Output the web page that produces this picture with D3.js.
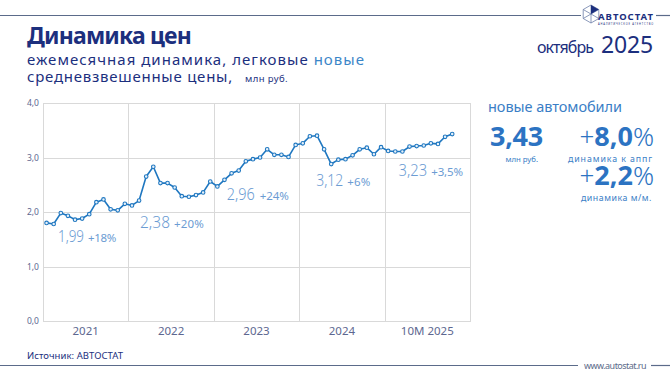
<!DOCTYPE html>
<html><head><meta charset="utf-8">
<script src="https://cdn.jsdelivr.net/npm/d3@7/dist/d3.min.js"></script>
<style>
html,body{margin:0;padding:0;background:#fff;}
svg{display:block;font-family:"Noto Sans",sans-serif;}
</style></head>
<body><svg id="c" width="670" height="376"></svg>
<script>
// ---------- data ----------
const yearLabels = ["2021","2022","2023","2024","10M 2025"];
const prices2021 = [1.80,1.78,1.98,1.93,1.86,1.88,1.96,2.18,2.23,2.05,2.03,2.15];
const prices2022 = [2.12,2.21,2.65,2.83,2.53,2.53,2.45,2.29,2.28,2.31,2.36,2.56];
const prices2023 = [2.47,2.59,2.71,2.76,2.93,2.97,3.00,3.15,3.05,3.05,3.01,3.23];
const prices2024 = [3.26,3.39,3.40,3.15,2.88,2.96,2.97,3.04,3.15,3.18,3.06,3.19];
const prices2025 = [3.12,3.11,3.11,3.20,3.21,3.22,3.26,3.25,3.38,3.43];
const yearAvg = ["1,99","2,38","2,96","3,12","3,23"];
const yearChange = ["+18%","+20%","+24%","+6%","+3,5%"];
const yTicks = [0,1,2,3,4];
const yTickLabels = ["0,0","1,0","2,0","3,0","4,0"];

const series = [prices2021,prices2022,prices2023,prices2024,prices2025]
  .flatMap((arr,yi)=>arr.map((v,m)=>({i:yi*12+m, v})));

// ---------- layout ----------
const svg = d3.select("#c");
const L=43, R=470, T=103, B=321;
const x = d3.scaleLinear().domain([0,60]).range([L,R]);
const xYear = d3.scaleBand().domain(yearLabels).range([L,R]).padding(0);
const y = d3.scaleLinear().domain([0,4]).range([B,T]);

const navy="#1c2f7e", blue="#2c73c2", light="#6c9cd3", grid="#d9d9d9", axisTxt="#5d6790", pale="#3a7ec6";

function fit(sel, w){
  const n = sel.text().length;
  const cur = sel.node().getComputedTextLength();
  sel.attr("letter-spacing", ((w-cur)/n).toFixed(3));
}

// header lines
svg.append("line").attr("x1",0).attr("x2",581).attr("y1",15.5).attr("y2",15.5).attr("stroke","#5b6b8a").attr("stroke-width",1.2);
svg.append("line").attr("x1",656).attr("x2",670).attr("y1",15.5).attr("y2",15.5).attr("stroke","#5b6b8a").attr("stroke-width",1.2);
// logo
const lg = svg.append("g").attr("transform","translate(591,14)");
const hexPts = d3.range(6).map(k=>{const a=Math.PI/3*k - Math.PI/2; return [9*Math.cos(a), 9*Math.sin(a)];});
lg.append("polygon").attr("points",hexPts.map(p=>p.join(",")).join(" ")).attr("fill","none").attr("stroke","#6d7fa8").attr("stroke-width",0.8);
hexPts.forEach(p=>lg.append("line").attr("x1",0).attr("y1",0).attr("x2",p[0]).attr("y2",p[1]).attr("stroke","#6d7fa8").attr("stroke-width",0.8));
lg.append("polygon").attr("points",[[0,0],hexPts[0],hexPts[1]].map(p=>p.join(",")).join(" ")).attr("fill",navy);
svg.append("text").attr("x",598).attr("y",20).attr("font-size",9.5).attr("font-weight",700).attr("fill",navy).text("АВТОСТАТ").call(s=>fit(s,56));
svg.append("text").attr("x",598).attr("y",25).attr("font-size",2.6).attr("fill",navy).text("АНАЛИТИЧЕСКОЕ АГЕНТСТВО").call(s=>fit(s,56));

// title
svg.append("text").attr("x",27).attr("y",44).attr("font-size",23).attr("font-weight",700).attr("fill",navy).text("Динамика цен").call(s=>fit(s,164));
const sub1 = svg.append("text").attr("x",27).attr("y",65).attr("font-size",15).attr("fill",navy);
sub1.append("tspan").text("ежемесячная динамика, легковые ");
sub1.append("tspan").attr("fill","#3b86c8").text("новые");
fit(sub1,338);
const sub2 = svg.append("text").attr("x",27).attr("y",82).attr("font-size",15).attr("fill",navy).text("средневзвешенные цены,");
fit(sub2,206);
svg.append("text").attr("x",245).attr("y",82).attr("font-size",9.5).attr("fill",navy).text("млн руб.").call(s=>fit(s,43));

// date
svg.append("text").attr("x",537).attr("y",53).attr("font-size",16).attr("fill",navy).text("октябрь").call(s=>fit(s,56));
svg.append("text").attr("x",601).attr("y",53).attr("font-size",23).attr("fill",navy).text("2025").call(s=>fit(s,52));

// grid
svg.append("g").selectAll("line").data(yTicks).join("line")
  .attr("x1",L).attr("x2",R).attr("y1",d=>Math.round(y(d))+0.5).attr("y2",d=>Math.round(y(d))+0.5)
  .attr("stroke",grid).attr("stroke-width",1);
svg.append("g").selectAll("line").data([0,12,24,36,48,60]).join("line")
  .attr("x1",d=>Math.round(x(d))+0.5).attr("x2",d=>Math.round(x(d))+0.5)
  .attr("y1",T).attr("y2",B+1).attr("stroke",grid).attr("stroke-width",1);

// y labels
svg.append("g").selectAll("text").data(yTicks).join("text")
  .attr("x",39).attr("y",d=>y(d)+3).attr("text-anchor","end").attr("font-size",8.5).attr("fill",axisTxt)
  .text((d,i)=>yTickLabels[i]);
// x labels
svg.append("g").selectAll("text").data(yearLabels).join("text")
  .attr("x",d=>xYear(d)+xYear.bandwidth()/2).attr("y",334.5).attr("text-anchor","middle")
  .attr("font-size",11.5).attr("fill",axisTxt).text(d=>d);

// line
const line = d3.line().x(d=>x(d.i+0.5)).y(d=>y(d.v));
svg.append("path").datum(series).attr("d",line).attr("fill","none").attr("stroke","#1f77c0").attr("stroke-width",1.6).attr("stroke-linejoin","round");
svg.append("g").selectAll("circle").data(series).join("circle")
  .attr("cx",d=>x(d.i+0.5)).attr("cy",d=>y(d.v)).attr("r",1.8)
  .attr("fill","#e6f1fb").attr("stroke","#1f77c0").attr("stroke-width",1.1);

// annotations (layout: offset from year band start, widths of the two parts)
const annDx = [15,11.6,13,17,14];
const annY = [242,227.7,200,185.7,176];
const annW1 = [26,30,28,27,28.6];
const annGap = [4,4,5,4,4];
const annW2 = [28,30,29,23.5,31.7];
yearLabels.forEach((yl,k)=>{
  const x0 = xYear(yl)+annDx[k];
  svg.append("text").attr("x",x0).attr("y",annY[k]).attr("fill",light)
    .attr("font-size",17).attr("font-weight",300)
    .attr("textLength",annW1[k]).attr("lengthAdjust","spacingAndGlyphs").text(yearAvg[k]);
  svg.append("text").attr("x",x0+annW1[k]+annGap[k]).attr("y",annY[k]).attr("fill",light)
    .attr("font-size",11.5).text(yearChange[k]).call(s=>fit(s,annW2[k]));
});

// right panel
svg.append("text").attr("x",488).attr("y",111.5).attr("font-size",14.5).attr("fill",pale).text("новые автомобили").call(s=>fit(s,134));
svg.append("text").attr("x",490).attr("y",146).attr("font-size",27).attr("font-weight",700).attr("fill",blue).text("3,43").call(s=>fit(s,53));
svg.append("text").attr("x",538).attr("y",161.5).attr("text-anchor","end").attr("font-size",7.8).attr("fill",pale).text("млн руб.");
function pct(xr, yb, num){
  const t = svg.append("text").attr("x",xr).attr("y",yb).attr("text-anchor","end").attr("fill",blue);
  t.append("tspan").attr("font-size",26).attr("font-weight",300).text("+");
  t.append("tspan").attr("font-size",27).attr("font-weight",700).text(num);
  t.append("tspan").attr("font-size",26).attr("font-weight",300).text("%");
}
pct(654,146,"8,0");
svg.append("text").attr("x",568).attr("y",161.5).attr("font-size",8.8).attr("fill",pale).text("динамика к аппг").call(s=>fit(s,85));
pct(654,184.5,"2,2");
svg.append("text").attr("x",581).attr("y",200.5).attr("font-size",8.8).attr("fill",pale).text("динамика м/м.").call(s=>fit(s,71));

// footer
svg.append("text").attr("x",27).attr("y",359).attr("font-size",9.5).attr("fill",navy).text("Источник: АВТОСТАТ").call(s=>fit(s,96));
svg.append("line").attr("x1",0).attr("x2",578).attr("y1",365.5).attr("y2",365.5).attr("stroke","#5b6b8a").attr("stroke-width",1.2);
svg.append("line").attr("x1",651).attr("x2",670).attr("y1",365.5).attr("y2",365.5).attr("stroke","#5b6b8a").attr("stroke-width",1.2);
svg.append("text").attr("x",584).attr("y",368.5).attr("font-size",9).attr("fill","#5b6b8a").text("www.autostat.ru").call(s=>fit(s,62));
</script></body></html>
